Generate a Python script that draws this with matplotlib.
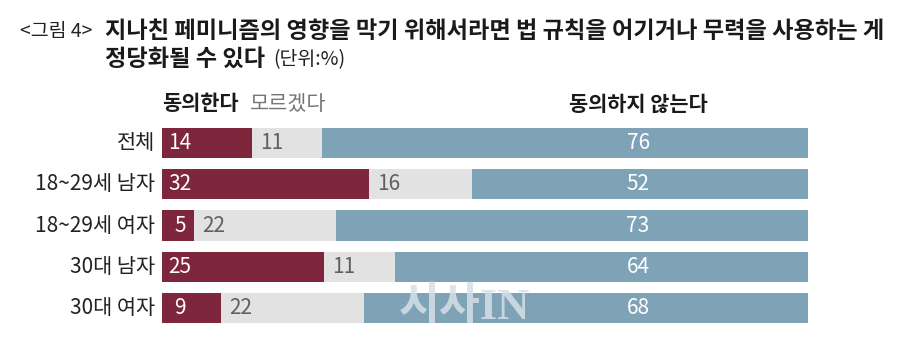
import numpy as np
import matplotlib.pyplot as plt

plt.rcParams['font.family'] = ['Noto Sans CJK KR', 'DejaVu Sans']

categories = ['전체', '18~29세 남자', '18~29세 여자', '30대 남자', '30대 여자']
agree = [14, 32, 5, 25, 9]
unknown = [11, 16, 22, 11, 22]
disagree = [76, 52, 73, 64, 68]

MAROON = '#7e263c'
GRAY = '#e2e2e2'
BLUE = '#7fa3b6'

W, H = 900, 351
fig = plt.figure(figsize=(W / 100, H / 100), dpi=100)


def px(x, y):
    # pixel (from top-left) to figure fraction
    return x / W, 1 - y / H


# axes spans bar area: x 162..808, rows centred at 143..308 px
left, right = 162, 808
top, bottom = 122.4, 328.6
ax = fig.add_axes([left / W, 1 - bottom / H, (right - left) / W, (bottom - top) / H])
ax.set_xlim(0, 1)
ax.set_ylim(len(categories) - 0.5, -0.5)
ax.axis('off')

a = np.array(agree, float)
u = np.array(unknown, float)
d = np.array(disagree, float)
tot = a + u + d
a_n, u_n, d_n = a / tot, u / tot, d / tot
y = np.arange(len(categories))
bh = 0.73

ax.barh(y, a_n, height=bh, color=MAROON)
ax.barh(y, u_n, left=a_n, height=bh, color=GRAY)
ax.barh(y, d_n, left=a_n + u_n, height=bh, color=BLUE)

lab_fs = 15
for i in range(len(categories)):
    ax.text(-0.011, y[i], categories[i], ha='right', va='center', fontsize=lab_fs, color='#222222')
    ax.text(0.028, y[i], str(agree[i]), ha='center', va='center', fontsize=lab_fs,
            color='white', fontweight='medium')
    ax.annotate(str(unknown[i]), (a_n[i], y[i]), xytext=(6, 0), textcoords='offset points',
                ha='left', va='center', fontsize=lab_fs, color='#606060')
    ax.text(0.737, y[i], str(disagree[i]), ha='center', va='center', fontsize=lab_fs,
            color='white')

# column headers
fig.text(*px(162, 104), '동의한다', ha='left', va='center', fontsize=15, fontweight='bold', color='#1a1a1a')
fig.text(*px(250, 104), '모르겠다', ha='left', va='center', fontsize=15, color='#777777')
fig.text(*px(638, 104), '동의하지 않는다', ha='center', va='center', fontsize=15, fontweight='bold', color='#1a1a1a')

# title
fig.text(*px(20, 31), '<그림 4>', ha='left', va='center', fontsize=14, color='#222222')
fig.text(*px(105, 31), '지나친 페미니즘의 영향을 막기 위해서라면 법 규칙을 어기거나 무력을 사용하는 게',
         ha='left', va='center', fontsize=16.7, fontweight='bold', color='#1a1a1a')
fig.text(*px(105, 59), '정당화될 수 있다', ha='left', va='center', fontsize=16.7, fontweight='bold', color='#1a1a1a')
fig.text(*px(273, 60), '(단위:%)', ha='left', va='center', fontsize=14, color='#222222')

# watermark
fig.text(*px(464, 307), '시사IN', ha='center', va='center', fontsize=32, fontweight='bold',
         color='#d6e0e8', alpha=0.85, family=['Liberation Serif', 'Noto Sans CJK KR'])

fig.savefig('out.png', dpi=100)
